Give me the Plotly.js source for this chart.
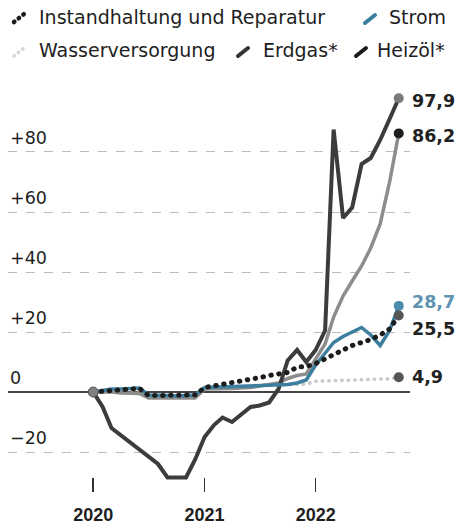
<!DOCTYPE html>
<html>
<head>
<meta charset="utf-8">
<script src="https://cdn.plot.ly/plotly-3.0.1.min.js"></script>
<style>
  html, body { margin: 0; padding: 0; background: #fff; }
  #chart { width: 460px; height: 527px; }
  .scatterlayer .js-line, .shapelayer path { stroke-linecap: round; }
</style>
</head>
<body>
<div id="chart"></div>
<script>
// monthly index, change in % vs. January 2020
const months = [
    "2020-01", "2020-02", "2020-03", "2020-04", "2020-05", "2020-06",
    "2020-07", "2020-08", "2020-09", "2020-10", "2020-11", "2020-12",
    "2021-01", "2021-02", "2021-03", "2021-04", "2021-05", "2021-06",
    "2021-07", "2021-08", "2021-09", "2021-10", "2021-11", "2021-12",
    "2022-01", "2022-02", "2022-03", "2022-04", "2022-05", "2022-06",
    "2022-07", "2022-08", "2022-09", "2022-10"
];

const wasser = [
    0, 0.2, 0.4, 0.5, 0.6, 0.7, -1.3, -1.3, -1.2, -1.2, -1.1, -1.0,
    1.5, 1.6, 1.7, 1.8, 1.9, 2.0, 2.1, 2.2, 2.3, 2.4, 2.5, 2.6,
    3.6, 3.7, 3.8, 3.9, 4.0, 4.0, 4.1, 4.2, 4.4, 4.9
];
const erdgas = [
    0, 0, 0, -0.3, -0.5, -0.5, -2, -2, -2, -2, -2, -2,
    1, 1, 1, 1.2, 1.3, 1.5, 2, 2.5, 3, 4.5, 5.5, 6,
    11, 16, 25, 32, 37, 42, 48, 56, 70, 86.2
];
const heizoel = [
    0, -5, -12, -14.5, -17, -19.5, -21.5, -24, -28.5, -28.5, -28.5, -22.5,
    -15, -11, -8.5, -10, -7.5, -5, -4.5, -3.5, 1, 10.5, 14, 10,
    14, 20.5, 87.5, 58, 61.5, 76, 78, 84, 91, 97.9
];
const strom = [
    0, 0.5, 1, 1, 1.2, 1.3, -1, -1, -1.2, -1.3, -1.2, -1,
    1.5, 1.6, 1.7, 1.8, 1.9, 2, 2, 2.1, 2.2, 2.5, 3, 4,
    9, 13, 16.5, 18.5, 20, 21.5, 19, 15.5, 20.5, 28.7
];
const instandhaltung = [
    0, 0.3, 0.6, 0.8, 1, 1.2, -1.2, -1.2, -1.2, -1.2, -1.0, -1.0,
    1.5, 2, 2.5, 3.2, 3.8, 4.2, 4.8, 5.5, 6, 6.5, 8.3, 8.5,
    9.5, 11, 12.5, 14, 15.5, 16.5, 17.5, 19, 21, 25.5
];

const yTicks = [-20, 0, 20, 40, 60, 80];
const yTickText = ["\u221220", "0", "+20", "+40", "+60", "+80"];
const yearTicks = ["2020-01-01", "2021-01-01", "2022-01-01"];
const yearText = ["2020", "2021", "2022"];

// drawing order: bottom to top
const series = [
    {name: "Wasserversorgung", y: wasser, color: "#c9c9c9", width: 3.5, dash: "0.5px,6px",
     marker: "#555", label: "#222", shift: 0},
    {name: "Erdgas*", y: erdgas, color: "#8d8d8d", width: 3.5, dash: "solid",
     marker: "#1e1e1e", label: "#222", shift: -3},
    {name: "Heizöl*", y: heizoel, color: "#3c3c3c", width: 4, dash: "solid",
     marker: "#7a7a7a", label: "#222", shift: -3},
    {name: "Strom", y: strom, color: "#3b7e9d", width: 3.5, dash: "solid",
     marker: "#4b8cab", label: "#6093b0", shift: 4},
    {name: "Instandhaltung und Reparatur", y: instandhaltung, color: "#1c1c1c", width: 5, dash: "0.5px,7.5px",
     marker: "#555", label: "#222", shift: -13}
];

const data = [];
const annotations = [];

series.forEach(function(s) {
    data.push({
        x: months, y: s.y, type: 'scatter', mode: 'lines',
        line: {color: s.color, width: s.width, dash: s.dash},
        hoverinfo: 'skip'
    });
});

// start point
data.push({
    x: [months[0]], y: [heizoel[0]], type: 'scatter', mode: 'markers',
    marker: {color: '#808080', size: 10, line: {color: '#555', width: 1}}, hoverinfo: 'skip'
});

// end points + value labels
series.forEach(function(s) {
    const last = s.y.length - 1;
    data.push({
        x: [months[last]], y: [s.y[last]], type: 'scatter', mode: 'markers',
        marker: {color: s.marker, size: 10}, hoverinfo: 'skip'
    });
    annotations.push({
        x: months[last], y: s.y[last], xref: 'x', yref: 'y',
        text: s.y[last].toFixed(1).replace('.', ','),
        showarrow: false, xanchor: 'left', yanchor: 'middle',
        xshift: 11, yshift: s.shift,
        font: {family: 'DejaVu Sans', size: 17.5, color: s.label, weight: 'bold'}
    });
});

// y labels sit above their gridline
yTicks.forEach(function(v, i) {
    annotations.push({
        x: 0, y: v, xref: 'paper', yref: 'y', text: yTickText[i],
        showarrow: false, xanchor: 'left', yanchor: 'middle', yshift: 14,
        font: {family: 'DejaVu Sans', size: 17.5, color: '#1e1e1e'}
    });
});

// legend, drawn by hand (pixel -> paper)
const L = 8, PW = 402, B = 492, PH = 407;
function px(x) { return (x - L) / PW; }
function py(y) { return (B - y) / PH; }

const legend = [
    {text: "Instandhaltung und Reparatur", tx: 37, ty: 17, ic: [14, 22, 24, 14], color: "#1c1c1c", dash: "0.5px,5.5px", w: 4.5},
    {text: "Strom", tx: 387, ty: 17, ic: [365, 23, 375, 15], color: "#3b7e9d", dash: "solid", w: 4},
    {text: "Wasserversorgung", tx: 37, ty: 50, ic: [14, 56, 24, 48], color: "#d6d6d6", dash: "0.5px,5px", w: 3.5},
    {text: "Erdgas*", tx: 261, ty: 50, ic: [238, 56, 248, 48], color: "#333", dash: "solid", w: 4},
    {text: "Heizöl*", tx: 375, ty: 50, ic: [356, 56, 366, 48], color: "#1a1a1a", dash: "solid", w: 4}
];

const shapes = [];
legend.forEach(function(it) {
    annotations.push({
        x: px(it.tx), y: py(it.ty), xref: 'paper', yref: 'paper', text: it.text,
        showarrow: false, xanchor: 'left', yanchor: 'middle',
        font: {family: 'DejaVu Sans', size: 19, color: '#1e1e1e'}
    });
    shapes.push({
        type: 'line', xref: 'paper', yref: 'paper',
        x0: px(it.ic[0]), y0: py(it.ic[1]), x1: px(it.ic[2]), y1: py(it.ic[3]),
        line: {color: it.color, width: it.w, dash: it.dash}
    });
});

const layout = {
    width: 460,
    height: 527,
    margin: {l: 8, r: 50, t: 85, b: 35},
    paper_bgcolor: '#ffffff',
    plot_bgcolor: '#ffffff',
    showlegend: false,
    xaxis: {
        type: 'date',
        range: ['2019-03-27', '2022-11-07'],
        tickvals: yearTicks,
        ticktext: yearText,
        ticks: 'inside',
        ticklen: 14,
        tickwidth: 1.5,
        tickcolor: '#333',
        ticklabelstandoff: 10,
        tickfont: {family: 'Liberation Sans', size: 18, color: '#1e1e1e', weight: 'bold'},
        showgrid: false,
        zeroline: false,
        showline: false,
        fixedrange: true
    },
    yaxis: {
        range: [-33.33, 102.33],
        tickvals: yTicks,
        showticklabels: false,
        showgrid: true,
        gridcolor: '#bcbcbc',
        gridwidth: 1,
        griddash: 'dash',
        zeroline: true,
        zerolinecolor: '#444',
        zerolinewidth: 1.5,
        fixedrange: true
    },
    annotations: annotations,
    shapes: shapes
};

Plotly.newPlot('chart', data, layout, {displayModeBar: false, staticPlot: true});
</script>
</body>
</html>
